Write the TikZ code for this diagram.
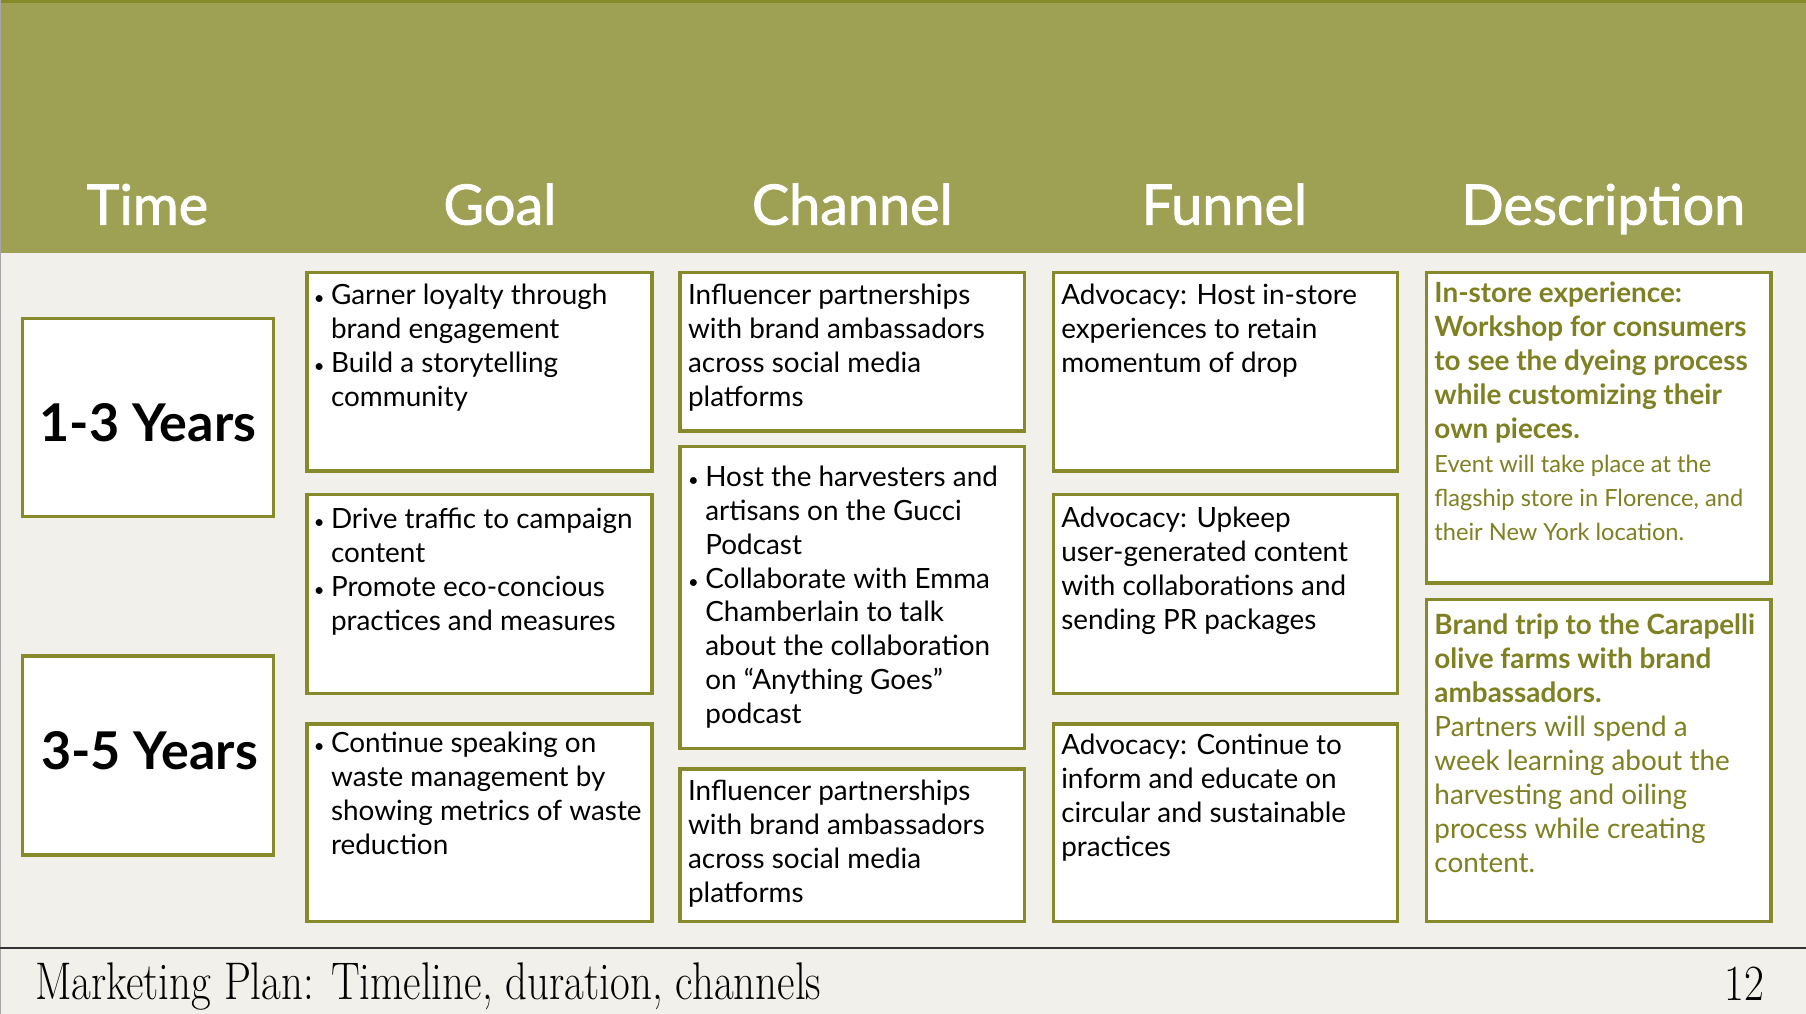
\documentclass[tikz,border=0pt]{standalone}
\usepackage{fontspec}
\usepackage{graphicx}
\setmainfont{Lato}
\newfontfamily\hdrfont[FakeBold=1.5]{Lato}
\newfontfamily\footfont{Latin Modern Roman}
\definecolor{hdr}{RGB}{158,160,83}
\definecolor{hdrline}{RGB}{135,138,40}
\definecolor{bgc}{RGB}{242,240,235}
\definecolor{boxc}{RGB}{134,138,43}
\definecolor{olivetxt}{RGB}{126,128,34}
\newcommand\bodyfont{\fontsize{12.1}{14.75}\selectfont}
\newcommand\smallbody{\fontsize{10.25}{14.75}\selectfont}
\newcommand\bl{\makebox[7.5pt][l]{\fontsize{8}{8}\selectfont\textbullet}}
\newcommand\ind{\hspace*{7.5pt}}
\begin{document}
\begin{tikzpicture}[x=0.5pt,y=-0.5pt,
  panel/.style={draw=boxc, line width=1.5pt, fill=white},
  hdrtxt/.style={anchor=base, inner sep=0pt, text=white, font=\hdrfont\fontsize{24.2}{28}\selectfont},
  yeartxt/.style={anchor=base, inner sep=0pt, font=\bfseries\fontsize{22.6}{26}\selectfont},
  bodytxt/.style={anchor=base west, inner sep=0pt, font=\bodyfont},
  desctxt/.style={anchor=base west, inner sep=0pt, font=\bodyfont, text=olivetxt}]
\useasboundingbox (0,0) rectangle (1568,880);
% backgrounds
\fill[bgc] (0,0) rectangle (1568,880);
\fill[hdr] (0,0) rectangle (1568,220);
\fill[hdrline] (0,0) rectangle (1568,3);
\draw[gray!70, line width=0.5pt] (0.5,0) -- (0.5,880);
\draw[black!80, line width=0.8pt] (0,823) -- (1568,823);
% header
\node[hdrtxt] (hTime) at (128,195) {Time};
\node[hdrtxt] (hGoal) at (434,195) {Goal};
\node[hdrtxt] (hChannel) at (740,195) {Channel};
\node[hdrtxt] (hFunnel) at (1063,195) {Funnel};
\node[hdrtxt] (hDesc) at (1392,195) {Description};
% time column
\draw[panel] (19.5,276.5) rectangle (237.5,448.5);
\draw[panel] (19.5,569.5) rectangle (237.5,742.5);
\node[yeartxt] (y13) at (128.5,383.5) {1-3 Years};
\node[yeartxt] (y35) at (130,668.5) {3-5 Years};
% goal column
\draw[panel] (266.5,236.5) rectangle (566,409);
\draw[panel] (266.5,429.5) rectangle (566,602);
\draw[panel] (266.5,628.5) rectangle (566,800);
\node[bodytxt] (g1) at (272,264) {\parbox[t]{150pt}{\raggedright
  \bl Garner loyalty through\\ \ind brand engagement\\ \bl Build a storytelling\\ \ind community}};
\node[bodytxt] (g2) at (272,459) {\parbox[t]{150pt}{\raggedright
  \bl Drive traffic to campaign\\ \ind content\\ \bl Promote eco-concious\\ \ind practices and measures}};
\node[bodytxt] (g3) at (272,653) {\parbox[t]{150pt}{\raggedright
  \bl Continue speaking on\\ \ind waste management by\\ \ind showing metrics of waste\\ \ind reduction}};
% channel column
\draw[panel] (590.5,236.5) rectangle (889.5,374);
\draw[panel] (590.5,387.5) rectangle (889.5,650);
\draw[panel] (590.5,667.5) rectangle (889.5,800);
\node[bodytxt] (c1) at (597,264) {\parbox[t]{150pt}{\raggedright
  Influencer partnerships\\ with brand ambassadors\\ across social media\\ platforms}};
\node[bodytxt] (c2) at (597,422) {\parbox[t]{150pt}{\raggedright
  \bl Host the harvesters and\\ \ind artisans on the Gucci\\ \ind Podcast\\ \bl Collaborate with Emma\\ \ind Chamberlain to talk\\ \ind about the collaboration\\ \ind on “Anything Goes”\\ \ind podcast}};
\node[bodytxt] (c3) at (597,695) {\parbox[t]{150pt}{\raggedright
  Influencer partnerships\\ with brand ambassadors\\ across social media\\ platforms}};
% funnel column
\draw[panel] (914.5,236.5) rectangle (1213.5,409);
\draw[panel] (914.5,429.5) rectangle (1213.5,602);
\draw[panel] (914.5,628.5) rectangle (1213.5,800);
\node[bodytxt] (f1) at (921,264) {\parbox[t]{150pt}{\raggedright
  Advocacy: Host in-store\\ experiences to retain\\ momentum of drop}};
\node[bodytxt] (f2) at (921,458) {\parbox[t]{150pt}{\raggedright
  Advocacy: Upkeep\\ user-generated content\\ with collaborations and\\ sending PR packages}};
\node[bodytxt] (f3) at (921,655) {\parbox[t]{150pt}{\raggedright
  Advocacy: Continue to\\ inform and educate on\\ circular and sustainable\\ practices}};
% description column
\draw[panel] (1238.5,236.5) rectangle (1537.5,506);
\draw[panel] (1238.5,520.5) rectangle (1537.5,800);
\node[desctxt] (d1) at (1245,263) {\parbox[t]{150pt}{\raggedright
  \textbf{In-store experience:}\\ \textbf{Workshop for consumers}\\ \textbf{to see the dyeing process}\\ \textbf{while customizing their}\\ \textbf{own pieces.}\\
  {\smallbody Event will take place at the}\\ {\smallbody flagship store in Florence, and}\\ {\smallbody their New York location.}}};
\node[desctxt] (d2) at (1245,551) {\parbox[t]{150pt}{\raggedright
  \textbf{Brand trip to the Carapelli}\\ \textbf{olive farms with brand}\\ \textbf{ambassadors.}\\ Partners will spend a\\ week learning about the\\ harvesting and oiling\\ process while creating\\ content.}};
% footer
\node[anchor=base west, inner sep=0pt] (foot) at (30,868) {\scalebox{0.81}[1]{\footfont\fontsize{23}{26}\selectfont Marketing Plan: Timeline, duration, channels}};
\node[anchor=base east, inner sep=0pt] (pnum) at (1532,869) {\scalebox{0.85}[1]{\footfont\fontsize{22}{26}\selectfont 12}};
\end{tikzpicture}
\end{document}
